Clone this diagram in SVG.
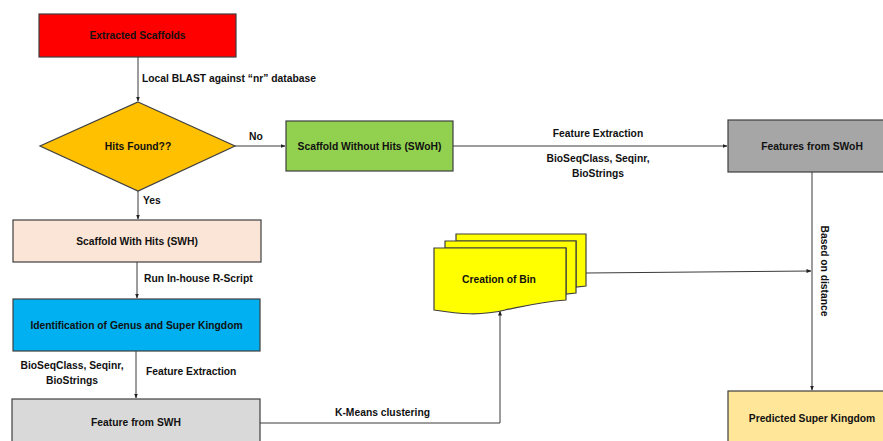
<svg xmlns="http://www.w3.org/2000/svg" width="883" height="441" viewBox="0 0 883 441">
<defs>
<style>
text{font-family:"Liberation Sans",Arial,sans-serif;font-weight:bold;font-size:10.3px;fill:#111}
.c{text-anchor:middle}
.box{stroke:#3f3f3f;stroke-width:1.2}
.edge{fill:none;stroke:#3a3a3a;stroke-width:1}
</style>
<marker id="ah" viewBox="0 0 10 10" refX="9" refY="5" markerWidth="5" markerHeight="5" orient="auto" markerUnits="userSpaceOnUse"><path d="M0,1 L10,5 L0,9 z" fill="#222"/></marker>
</defs>
<rect width="883" height="441" fill="#fff"/>
<g id="connectors">
<path class="edge" d="M138,57 V101" marker-end="url(#ah)"/>
<path class="edge" d="M235,146 H285" marker-end="url(#ah)"/>
<path class="edge" d="M138,191 V219" marker-end="url(#ah)"/>
<path class="edge" d="M137,262 V298" marker-end="url(#ah)"/>
<path class="edge" d="M136,351 V398" marker-end="url(#ah)"/>
<path class="edge" d="M453,146 H727" marker-end="url(#ah)"/>
<path class="edge" d="M812,172 V390" marker-end="url(#ah)"/>
<path class="edge" d="M260,423 H500 V311" marker-end="url(#ah)"/>
<path class="edge" d="M586,273 L811,271" marker-end="url(#ah)"/>
<text x="142" y="82">Local BLAST against “nr” database</text>
<text x="249" y="140">No</text>
<text x="143" y="204">Yes</text>
<text x="144" y="282">Run In-house R-Script</text>
<text class="c" x="72" y="369">BioSeqClass, Seqinr,</text>
<text class="c" x="72" y="384">BioStrings</text>
<text x="146" y="375">Feature Extraction</text>
<text x="335" y="416">K-Means clustering</text>
<text class="c" x="598" y="137">Feature Extraction</text>
<text class="c" x="598" y="162">BioSeqClass, Seqinr,</text>
<text class="c" x="598" y="177">BioStrings</text>
<text class="c" transform="translate(821,271) rotate(90)">Based on distance</text>
</g>
<g id="extracted">
<rect class="box" x="39" y="14" width="197" height="43" fill="#FF0000"/>
<text class="c" x="137.5" y="39">Extracted Scaffolds</text>
</g>
<g id="hits">
<polygon class="box" points="138,102 235,146 138,191 40,146" fill="#FFC000"/>
<text class="c" x="138" y="150">Hits Found??</text>
</g>
<g id="swoh">
<rect class="box" x="286" y="121" width="167" height="50" fill="#92D050"/>
<text class="c" x="369.5" y="150">Scaffold Without Hits (SWoH)</text>
</g>
<g id="fswoh">
<rect class="box" x="728" y="120" width="160" height="52" fill="#A6A6A6"/>
<text class="c" x="812" y="150">Features from SWoH</text>
</g>
<g id="swh">
<rect class="box" x="13" y="220" width="248" height="42" fill="#FBE5D6"/>
<text class="c" x="137" y="245">Scaffold With Hits (SWH)</text>
</g>
<g id="ident">
<rect class="box" x="13" y="299" width="247" height="52" fill="#00B0F0"/>
<text class="c" x="136.5" y="329">Identification of Genus and Super Kingdom</text>
</g>
<g id="fswh">
<rect class="box" x="12" y="399" width="248" height="50" fill="#D9D9D9"/>
<text class="c" x="136" y="426">Feature from SWH</text>
</g>
<g id="bin">
<path class="box" d="M456,234 H586 V286 L576,287 V241 H456 z" fill="#FFFF00"/>
<path class="box" d="M445,241 H576 V293 L566,294 V248 H445 z" fill="#FFFF00"/>
<path class="box" d="M434,248 H566 V300 C540,302 525,306 505,310 C480,316 460,314 434,310 z" fill="#FFFF00"/>
<text class="c" x="499" y="283">Creation of Bin</text>
</g>
<g id="predicted">
<rect class="box" x="728" y="391" width="160" height="60" fill="#FFE699"/>
<text class="c" x="812" y="422">Predicted Super Kingdom</text>
</g>
</svg>
